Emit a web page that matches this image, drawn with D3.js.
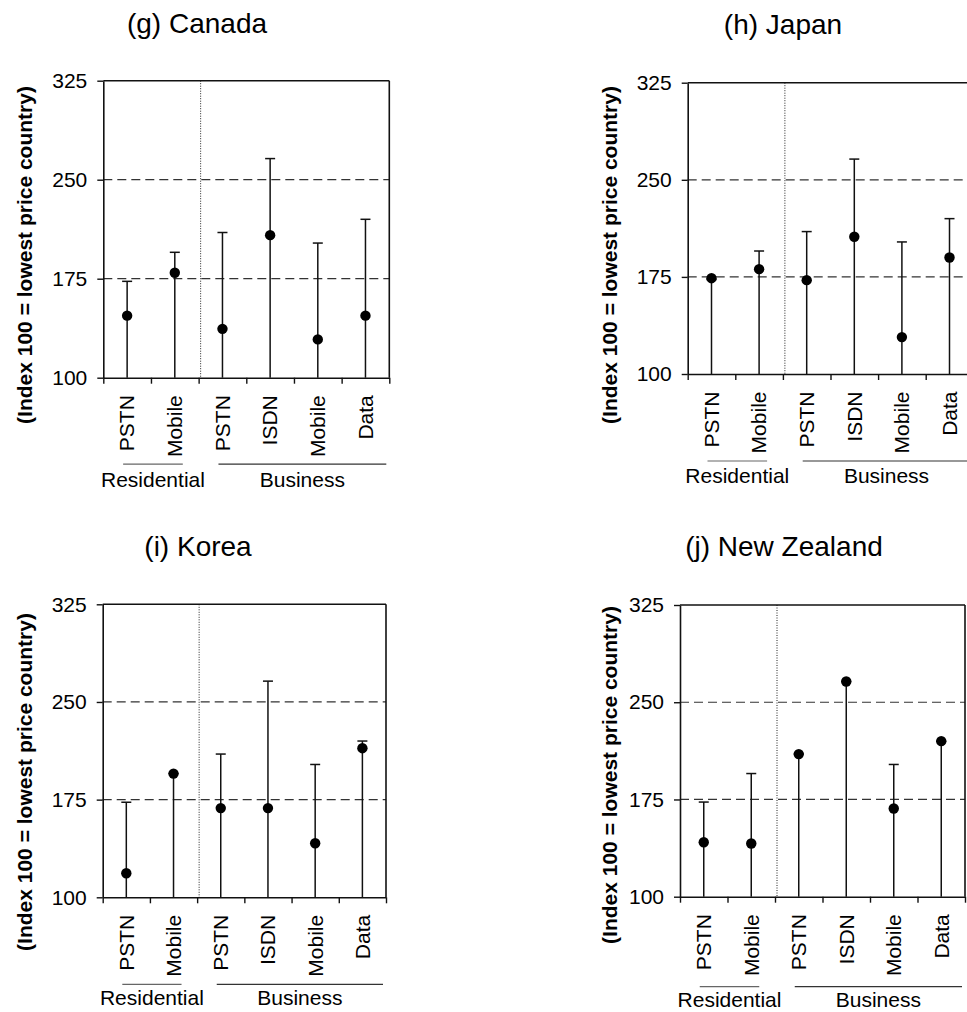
<!DOCTYPE html>
<html>
<head>
<meta charset="utf-8">
<script src="https://cdn.jsdelivr.net/npm/d3@7"></script>
<style>
  html, body { margin: 0; padding: 0; background: #fff; }
  svg { display: block; font-family: "Liberation Sans", Arial, Helvetica, sans-serif; }
</style>
</head>
<body>
<svg id="chart" width="967" height="1012"></svg>
<script>
// ---------- data ----------
const categories = ["PSTN", "Mobile", "PSTN", "ISDN", "Mobile", "Data"];
const groupNames = ["Residential", "Business"];
const yTicks = [100, 175, 250, 325];
const gridValues = [175, 250];
const yDomain = [100, 325];
// range of each basket across countries (lowest = 100, highest price country)
const rangeMin = [100, 100, 100, 100, 100, 100];
const rangeMax = [173, 195, 210, 266, 202, 220];
// country values
const canada     = [147, 179.5, 137, 208, 129, 147];
const japan      = [174, 181, 172.5, 206, 128.5, 190];
const korea      = [118.5, 195, 168.5, 168.5, 141.5, 214.5];
const newZealand = [142, 141, 210, 266, 168, 220];
const titles = ["(g) Canada", "(h) Japan", "(i) Korea", "(j) New Zealand"];
const yLabel = "(Index 100 = lowest price country)";

// ---------- layout (positions only) ----------
const layout = [
  { left: 103.3, right: 389.3, top: 80.7, bottom: 377.7, titleX: 197, titleY: 33, labX: 32, labY: 255, ulOff: 86.5, grpOff: 109 },
  { left: 687.7, right: 973.3, top: 82.7, bottom: 374,  titleX: 783, titleY: 34, labX: 617, labY: 255, ulOff: 87, grpOff: 109 },
  { left: 102.7, right: 386,   top: 604.3, bottom: 897.3, titleX: 198, titleY: 556, labX: 32, labY: 782, ulOff: 87, grpOff: 108 },
  { left: 680,   right: 965,   top: 605,  bottom: 896.7, titleX: 784, titleY: 556, labX: 617, labY: 775, ulOff: 90, grpOff: 110 }
];
const values = [canada, japan, korea, newZealand];

const svg = d3.select("#chart");
const ink = "#111";

values.forEach((vals, p) => {
  const L = layout[p];
  const g = svg.append("g");
  const x = d3.scaleBand().domain(d3.range(categories.length)).range([L.left, L.right]).padding(0);
  const xb = d3.scaleLinear().domain([0, categories.length]).range([L.left, L.right]);
  const y = d3.scaleLinear().domain(yDomain).range([L.bottom, L.top]);
  const cx = i => x(i) + x.bandwidth() / 2;

  // title
  g.append("text").attr("x", L.titleX).attr("y", L.titleY)
    .attr("text-anchor", "middle").attr("font-size", 28).attr("fill", "#000")
    .text(titles[p]);

  // dashed gridlines
  g.selectAll("line.grid").data(gridValues).join("line")
    .attr("x1", L.left).attr("x2", L.right)
    .attr("y1", d => y(d)).attr("y2", d => y(d))
    .attr("stroke", "#333").attr("stroke-width", 1.2).attr("stroke-dasharray", "9,5");

  // dotted separator between Residential and Business
  g.append("line")
    .attr("x1", xb(2) + 2).attr("x2", xb(2) + 2)
    .attr("y1", y(yDomain[1])).attr("y2", y(yDomain[0]))
    .attr("stroke", "#222").attr("stroke-width", 1).attr("stroke-dasharray", "1,1.5");

  // frame (top + right)
  g.append("line").attr("x1", L.left).attr("x2", L.right)
    .attr("y1", y(yDomain[1])).attr("y2", y(yDomain[1]))
    .attr("stroke", ink).attr("stroke-width", 1.6);
  g.append("line").attr("x1", L.right).attr("x2", L.right)
    .attr("y1", y(yDomain[1])).attr("y2", y(yDomain[0]))
    .attr("stroke", ink).attr("stroke-width", 1.6);

  // left axis
  const ax = g.append("g").attr("transform", `translate(${L.left},0)`)
    .call(d3.axisLeft(y).tickValues(yTicks).tickSize(6).tickSizeOuter(0).tickPadding(10));
  ax.select(".domain").attr("stroke", ink).attr("stroke-width", 1.6);
  ax.selectAll(".tick line").attr("stroke", ink).attr("stroke-width", 1.4);
  ax.selectAll(".tick text").attr("font-size", 21).attr("fill", "#000")
    .attr("font-family", "Liberation Sans, Arial, sans-serif");

  // bottom axis with ticks at category boundaries
  const bx = g.append("g").attr("transform", `translate(0,${L.bottom})`)
    .call(d3.axisBottom(xb).tickValues(d3.range(categories.length + 1)).tickSize(6).tickSizeOuter(0).tickFormat(""));
  bx.select(".domain").attr("stroke", ink).attr("stroke-width", 1.6);
  bx.selectAll(".tick line").attr("stroke", ink).attr("stroke-width", 1.4);

  // range lines
  g.selectAll("line.rng").data(categories).join("line")
    .attr("x1", (d, i) => cx(i)).attr("x2", (d, i) => cx(i))
    .attr("y1", (d, i) => y(rangeMin[i])).attr("y2", (d, i) => y(rangeMax[i]))
    .attr("stroke", ink).attr("stroke-width", 1.5);
  g.selectAll("line.cap").data(categories).join("line")
    .attr("x1", (d, i) => cx(i) - 5).attr("x2", (d, i) => cx(i) + 5)
    .attr("y1", (d, i) => y(rangeMax[i])).attr("y2", (d, i) => y(rangeMax[i]))
    .attr("stroke", ink).attr("stroke-width", 1.5);

  // country points
  g.selectAll("circle").data(vals).join("circle")
    .attr("cx", (d, i) => cx(i)).attr("cy", d => y(d)).attr("r", 5.2)
    .attr("fill", "#000");

  // category labels (rotated)
  g.selectAll("text.cat").data(categories).join("text")
    .attr("transform", (d, i) => `translate(${cx(i)},${L.bottom + 17.5}) rotate(-90)`)
    .attr("text-anchor", "end").attr("dy", "0.35em")
    .attr("font-size", 21).attr("fill", "#000")
    .text(d => d);

  // group underlines and names
  const groups = [
    { name: groupNames[0], x1: cx(0) - 4, x2: cx(1) + 8, color: "#666" },
    { name: groupNames[1], x1: cx(2) - 4, x2: L.right - 3, color: "#333" }
  ];
  groups.forEach(gr => {
    g.append("line").attr("x1", gr.x1).attr("x2", gr.x2)
      .attr("y1", L.bottom + L.ulOff).attr("y2", L.bottom + L.ulOff)
      .attr("stroke", gr.color).attr("stroke-width", 1.2);
    g.append("text").attr("x", (gr.x1 + gr.x2) / 2).attr("y", L.bottom + L.grpOff)
      .attr("text-anchor", "middle").attr("font-size", 21).attr("fill", "#000")
      .text(gr.name);
  });

  // y-axis label
  g.append("text")
    .attr("transform", `translate(${L.labX},${L.labY}) rotate(-90)`)
    .attr("text-anchor", "middle").attr("font-size", 21).attr("font-weight", "bold")
    .attr("fill", "#000").text(yLabel);
});
</script>
</body>
</html>
